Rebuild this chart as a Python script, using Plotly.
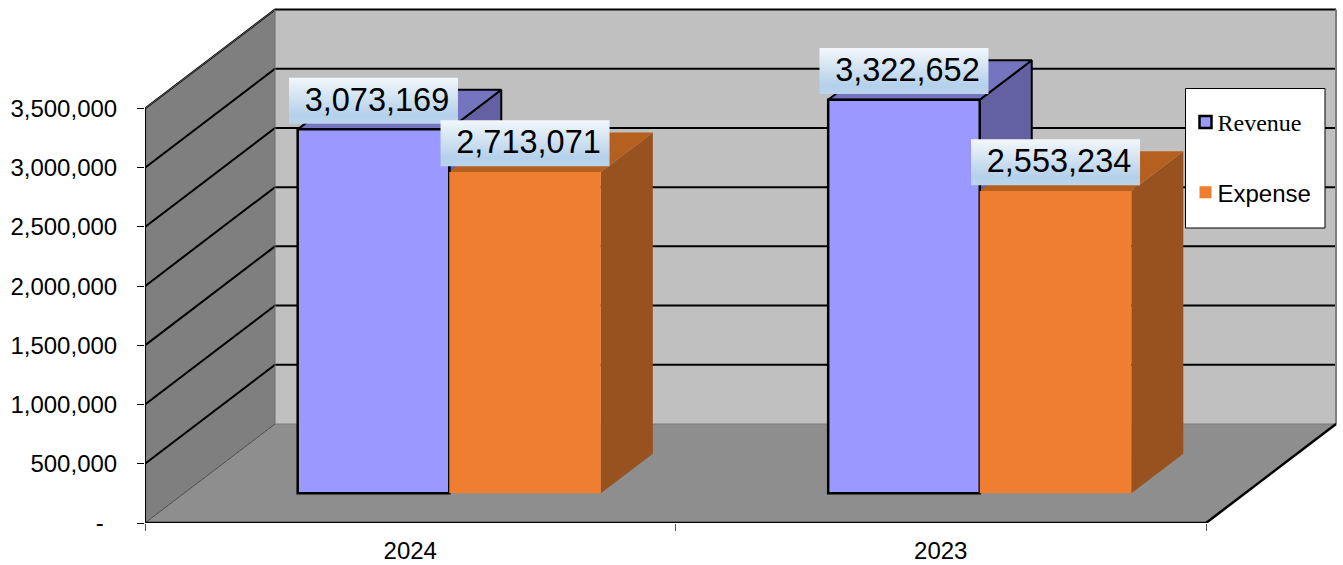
import plotly.graph_objects as go

# Chart values
categories = ["2024", "2023"]
revenue = [3073169, 3322652]
expense = [2713071, 2553234]
y_ticks = [0, 500000, 1000000, 1500000, 2000000, 2500000, 3000000, 3500000]
y_tick_labels = ["-\u00a0\u00a0"] + [f"{v:,}" for v in y_ticks[1:]]

# Plot geometry (pixels) for the oblique projection
WIDTH, HEIGHT = 1343, 565
LEFT, BOTTOM_Y = 145, 523
CAT_PX = 530.5
VAL_PX = 414.5 / 3500000
DEPTH_X = 130 / CAT_PX              # wall depth in category units
DEPTH_Y = 99 / VAL_PX               # wall depth in value units
Y_MAX = y_ticks[-1]
N = len(categories)

BAR_W = 1 / 3.5
GAP = 0.75 * BAR_W
BAR_D0, BAR_D1 = 0.3, 0.7           # depth slab occupied by the bars

BACK_WALL, SIDE_WALL, FLOOR = "#c0c0c0", "#7f7f7f", "#8e8e8e"
REV = dict(front="#9999ff", top="#7474bf", side="#6461a3", line="#000000")
EXP = dict(front="#ef7e31", top="#b5601f", side="#97521f", line=None)


def proj(x, y, d):
    return x + d * DEPTH_X, y + d * DEPTH_Y


def poly(points, fill, line=None, width=1, **kw):
    pts = [proj(*p) for p in points] + [proj(*points[0])]
    return go.Scatter(
        x=[p[0] for p in pts], y=[p[1] for p in pts], mode="lines", fill="toself",
        fillcolor=fill, line=dict(color=line or fill, width=width if line else 0),
        hoverinfo="skip", showlegend=False, cliponaxis=False, **kw)


def path(points, color, width):
    xs, ys = [], []
    for p in points:
        if p is None:
            xs.append(None); ys.append(None)
        else:
            x, y = proj(*p)
            xs.append(x); ys.append(y)
    return go.Scatter(x=xs, y=ys, mode="lines", line=dict(color=color, width=width),
                      hoverinfo="skip", showlegend=False, cliponaxis=False)


fig = go.Figure()

# Walls and floor
fig.add_trace(poly([(0, 0, 1), (N, 0, 1), (N, Y_MAX, 1), (0, Y_MAX, 1)], BACK_WALL))
fig.add_trace(poly([(0, 0, 0), (0, 0, 1), (0, Y_MAX, 1), (0, Y_MAX, 0)], SIDE_WALL))
fig.add_trace(poly([(0, 0, 0), (N, 0, 0), (N, 0, 1), (0, 0, 1)], FLOOR))

# Gridlines wrap from the side wall onto the back wall
grid = []
for v in y_ticks[1:]:
    grid += [(0, v, 0), (0, v, 1), (N, v, 1), None]
fig.add_trace(path(grid, "#000000", 2))
fig.add_trace(path([(0, Y_MAX, 0), (0, Y_MAX, 1)], "#5a5a5a", 1))
fig.add_trace(path([(0, 0, 0), (0, 0, 1)], "#4a4a4a", 1))
fig.add_trace(path([(0, 0, 1), (0, Y_MAX, 1)], "#6e6e6e", 1))
fig.add_trace(path([(0, 0, 1), (N, 0, 1)], "#7a7a7a", 1))
fig.add_trace(path([(N, 0, 1), (N, Y_MAX, 1)], "#808080", 2))
fig.add_trace(path([(N, 0, 0), (N, 0, 1)], "#000000", 2.5))
fig.add_trace(path([(0, 0, 0), (N, 0, 0)], "#000000", 2.5))
fig.add_trace(path([(0, 0, 0), (0, Y_MAX, 0)], "#000000", 2))

# Top and side faces of each bar, painted back to front
base = BAR_D0 * DEPTH_Y
shift = BAR_D0 * DEPTH_X
bar_x = {"rev": [], "exp": []}
labels = []
for i in range(N):
    for key, vals, style, slot in (("rev", revenue, REV, 0), ("exp", expense, EXP, 1)):
        x0 = i + GAP + slot * BAR_W
        x1 = x0 + BAR_W
        v = vals[i]
        d0, d1 = BAR_D0, BAR_D1
        fig.add_trace(poly([(x1, 0, d0), (x1, 0, d1), (x1, v, d1), (x1, v, d0)],
                           style["side"], style["line"], 2))
        fig.add_trace(poly([(x0, v, d0), (x1, v, d0), (x1, v, d1), (x0, v, d1)],
                           style["top"], style["line"], 2))
        cx = (x0 + x1) / 2 + shift
        bar_x[key].append(cx)
        labels.append((cx, v + 2 * base - 1 / VAL_PX, v))

# Front faces sit on an overlay pair of axes so they cover neighbouring side faces
fig.add_trace(go.Bar(
    x=bar_x["rev"], y=revenue, base=[base] * N, width=BAR_W, xaxis="x2", yaxis="y2",
    name='<span style="font-family:Liberation Serif">Revenue</span>',
    legendgroup="rev", hoverinfo="skip",
    marker=dict(color=REV["front"], line=dict(color="#000000", width=2.5))))
fig.add_trace(go.Bar(
    x=bar_x["exp"], y=expense, base=[base] * N, width=BAR_W, xaxis="x2", yaxis="y2",
    name="Expense", legendgroup="exp", hoverinfo="skip",
    marker=dict(color=EXP["front"], line=dict(width=0))))

# Data label plates with a vertical gradient
half_w = 84.5 / CAT_PX
half_h = 23 / VAL_PX
for lx, ly, v in labels:
    xs = [lx - half_w, lx + half_w, lx + half_w, lx - half_w, lx - half_w]
    ys = [ly - half_h, ly - half_h, ly + half_h, ly + half_h, ly - half_h]
    fig.add_trace(go.Scatter(
        x=xs, y=ys, mode="lines", fill="toself", line=dict(width=0),
        fillgradient=dict(type="vertical", colorscale=[
            [0, "#bcd5ec"], [0.18, "#b4d0ea"], [1, "#f3f7fb"]]),
        xaxis="x2", yaxis="y2", hoverinfo="skip", showlegend=False))
    fig.add_trace(go.Scatter(
        x=[lx + 3.5 / CAT_PX], y=[ly - 2 / VAL_PX], mode="text", text=[f"{v:,}"],
        textposition="middle center",
        textfont=dict(family="Liberation Sans", size=32.5, color="#000000"),
        xaxis="x2", yaxis="y2", hoverinfo="skip", showlegend=False))

x_range = [0, (WIDTH - LEFT) / CAT_PX]
y_range = [0, BOTTOM_Y / VAL_PX]
font = dict(family="Liberation Sans", size=24, color="#000000")

fig.update_layout(
    width=WIDTH, height=HEIGHT,
    margin=dict(l=LEFT, r=0, t=0, b=HEIGHT - BOTTOM_Y, pad=0),
    paper_bgcolor="#ffffff", plot_bgcolor="rgba(0,0,0,0)",
    barmode="overlay", font=font, hovermode=False,
    xaxis=dict(range=x_range, showgrid=False, zeroline=False, showline=False, automargin=False,
               tickmode="array", tickvals=[i + 0.5 for i in range(N)], ticktext=categories,
               ticks="", tickfont=font, ticklabelstandoff=11,
               minor=dict(tickmode="array", tickvals=list(range(N + 1)), ticks="outside",
                          ticklen=7, tickcolor="#555555", tickwidth=1, showgrid=False)),
    yaxis=dict(range=y_range, showgrid=False, zeroline=False, showline=False, automargin=False,
               tickmode="array", tickvals=y_ticks, ticktext=y_tick_labels,
               ticks="outside", ticklen=7, tickcolor="#000000", tickwidth=1,
               tickfont=font, ticklabelstandoff=15),
    xaxis2=dict(range=x_range, overlaying="x", visible=False),
    yaxis2=dict(range=y_range, overlaying="y", visible=False),
    showlegend=True,
    legend=dict(x=(1185.5 - LEFT) / (WIDTH - LEFT), y=(BOTTOM_Y - 100) / BOTTOM_Y,
                xanchor="left", yanchor="top", bgcolor="rgba(0,0,0,0)", borderwidth=0,
                tracegroupgap=36, indentation=-8, font=font, itemclick=False,
                traceorder="grouped"),
    shapes=[dict(type="rect", xref="paper", yref="paper", layer="above",
                 x0=(1185.5 - LEFT) / (WIDTH - LEFT), x1=(1325 - LEFT) / (WIDTH - LEFT),
                 y0=(BOTTOM_Y - 228) / BOTTOM_Y, y1=(BOTTOM_Y - 88.5) / BOTTOM_Y,
                 fillcolor="#ffffff", line=dict(color="#000000", width=1))],
)

# Tighten the swatch-to-text gap in the legend once the plot has been drawn
swatch_js = """
var gd = document.getElementById('{plot_id}');
function nudgeSwatches() {
  gd.querySelectorAll('.legend .legendpoints').forEach(function (g) {
    g.setAttribute('transform', 'translate(8,0)');
  });
}
nudgeSwatches();
gd.on('plotly_afterplot', nudgeSwatches);
"""

fig.write_html("out.html", post_script=swatch_js)
